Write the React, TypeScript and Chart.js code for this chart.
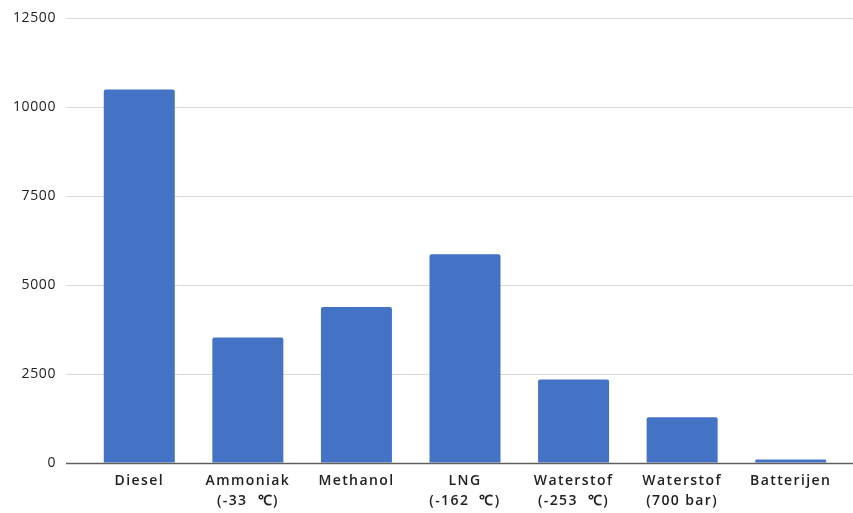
import React, { useEffect, useRef } from "react";
import { Chart, registerables } from "chart.js";

Chart.register(...registerables);

const categories: (string | string[])[] = [
  "Diesel",
  ["Ammoniak", "(-33  ℃)"],
  "Methanol",
  ["LNG", "(-162  ℃)"],
  ["Waterstof", "(-253  ℃)"],
  ["Waterstof", "(700 bar)"],
  "Batterijen",
];

const values = [10500, 3525, 4385, 5870, 2345, 1285, 95];

const yMin = 0;
const yMax = 12500;
const yStep = 2500;

const FONT = "'Open Sans', sans-serif";

// Extends gridlines to the right edge and draws the baseline over the bars
const gridExtender = {
  id: "gridExtender",
  beforeDatasetsDraw(chart: any) {
    const { ctx, chartArea, scales } = chart;
    const y = scales.y;
    ctx.save();
    ctx.lineWidth = 1;
    ctx.strokeStyle = "#d9d9d9";
    y.ticks.forEach((t: any) => {
      if (t.value === 0) return;
      const py = Math.round(y.getPixelForValue(t.value)) + 0.5;
      ctx.beginPath();
      ctx.moveTo(chartArea.right, py);
      ctx.lineTo(chart.width, py);
      ctx.stroke();
    });
    ctx.restore();
  },
  afterDatasetsDraw(chart: any) {
    const { ctx, chartArea, scales } = chart;
    const py = Math.round(scales.y.getPixelForValue(0)) + 0.5;
    ctx.save();
    ctx.lineWidth = 1.5;
    ctx.strokeStyle = "#5f5f5f";
    ctx.beginPath();
    ctx.moveTo(chartArea.left - 19, py);
    ctx.lineTo(chart.width, py);
    ctx.stroke();
    ctx.restore();
    ctx.letterSpacing = "0px";
  },
};

export default function App() {
  const canvasRef = useRef<HTMLCanvasElement | null>(null);

  useEffect(() => {
    document.body.style.margin = "0";
    const canvas = canvasRef.current;
    if (!canvas) return;
    const chart = new Chart(canvas, {
      type: "bar",
      data: {
        labels: categories,
        datasets: [
          {
            data: values,
            backgroundColor: "#4472c4",
            borderRadius: 2,
            borderSkipped: "bottom",
            categoryPercentage: 0.654,
            barPercentage: 1,
          },
        ],
      },
      options: {
        animation: false,
        responsive: false,
        maintainAspectRatio: false,
        layout: { padding: { left: 0, right: 8, top: 16, bottom: 0 } },
        plugins: {
          legend: { display: false },
          tooltip: { enabled: false },
        },
        scales: {
          x: {
            grid: { display: false, drawTicks: false },
            border: { display: false },
            ticks: {
              padding: 8,
              color: "#222",
              maxRotation: 0,
              autoSkip: false,
              // wider tracking for the category labels
              font: (c: any) => {
                c.chart.ctx.letterSpacing = "1.4px";
                return { family: FONT, size: 14, weight: "600", lineHeight: 20 / 14 };
              },
            },
            afterFit(scale: any) {
              scale.height = 50;
            },
          },
          y: {
            min: yMin,
            max: yMax,
            grid: {
              color: (c: any) => (c.tick && c.tick.value === 0 ? "rgba(0,0,0,0)" : "#d9d9d9"),
              tickLength: 19,
              lineWidth: 1,
            },
            border: { display: false },
            ticks: {
              stepSize: yStep,
              padding: 10,
              color: "#222",
              callback: (v: any) => String(v),
              font: (c: any) => {
                c.chart.ctx.letterSpacing = "0.6px";
                return { family: FONT, size: 14 };
              },
            },
            afterFit(scale: any) {
              scale.width = 85;
            },
          },
        },
      },
      plugins: [gridExtender],
    });
    return () => chart.destroy();
  }, []);

  return (
    <div style={{ width: 853, height: 513 }}>
      <canvas ref={canvasRef} width={853} height={513} style={{ display: "block" }} />
    </div>
  );
}
